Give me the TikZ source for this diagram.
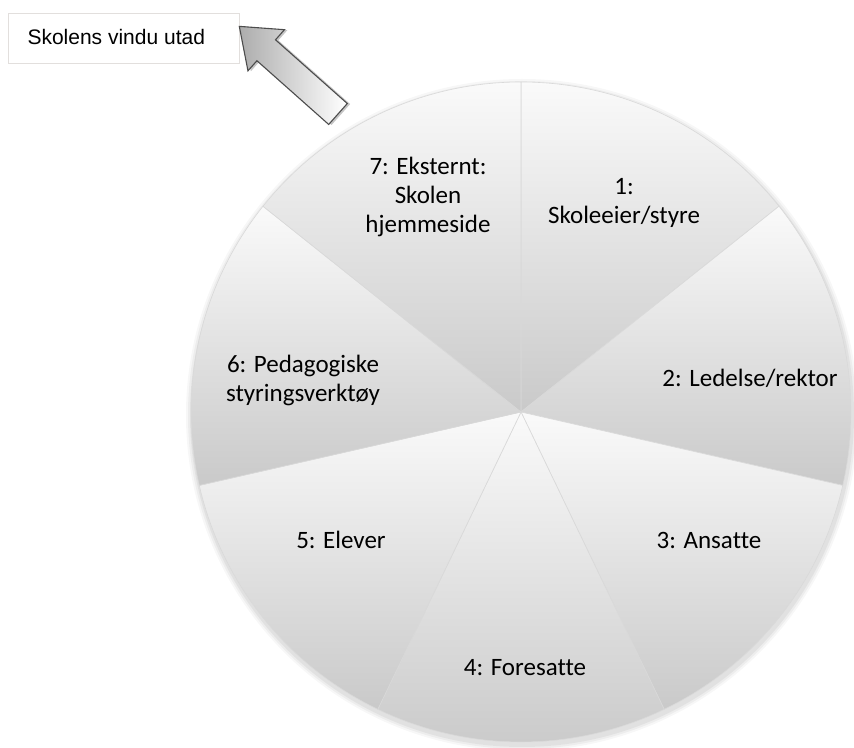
\documentclass[tikz,border=0pt]{standalone}
\usepackage{fontspec}
\setmainfont{Carlito}[Ligatures=NoCommon]
\newfontfamily\arialfont{Liberation Sans}
\usetikzlibrary{calc}
\begin{document}
\begin{tikzpicture}[x=1pt,y=1pt]
\useasboundingbox (0,0) rectangle (854,747);
\tikzset{
  slice/.style={top color=gray!4, bottom color=gray!42, draw=gray!30, line width=0.6pt},
  lbl/.style={font=\fontsize{25}{29}\selectfont, align=center, text=black},
  boxstyle/.style={draw=brown!15!gray!25, line width=1pt, fill=white, minimum width=231pt, minimum height=50pt},
  arrowshape/.style={draw=gray!60!black, line width=1.1pt, left color=gray!65, right color=white}
}
\coordinate (c) at (521,335);
\def\R{330}
% soft shadow
\foreach \s/\o in {6/0.03,4/0.04,2/0.05}{
  \fill[black, opacity=\o] ($(c)+(1,-3)$) circle (\R+\s);
}
\foreach \k in {1,...,7} {
  \pgfmathsetmacro\a{90-(\k-1)*360/7}
  \pgfmathsetmacro\b{90-\k*360/7}
  \path[slice] (c) -- ++(\a:\R) arc[start angle=\a, end angle=\b, radius=\R] -- cycle;
}
\node[lbl] (s1) at (624,544) {1:\\Skoleeier/styre};
\node[lbl] (s2) at (750,369) {2: Ledelse/rektor};
\node[lbl] (s3) at (709,207) {3: Ansatte};
\node[lbl] (s4) at (525,79) {4: Foresatte};
\node[lbl] (s5) at (341,207) {5: Elever};
\node[lbl] (s6) at (303,367) {6: Pedagogiske\\styringsverktøy};
\node[lbl] (s7) at (428,550) {7: Eksternt:\\Skolen\\hjemmeside};
% text box
\node[boxstyle, anchor=north west] (box) at (8,734) {};
\node[font=\arialfont\fontsize{21}{25}\selectfont, anchor=west] (boxtxt) at (24,710) {Skolens vindu utad};
% block arrow
\coordinate (tail) at (338,633);
\begin{scope}[shift={(tail)}, rotate=138.4]
  \fill[gray!45] ([shift={(-2.5,-1.5)}]0,-14) -- ++(96,0) -- ++(0,-13.5) -- ++(36,27.5) -- ++(-36,27.5) -- ++(0,-13.5) -- ++(-96,0) -- cycle;
  \path[arrowshape] (0,-14) -- (96,-14) -- (96,-27.5) -- (132,0) -- (96,27.5) -- (96,14) -- (0,14) -- cycle;
\end{scope}
\end{tikzpicture}
\end{document}
